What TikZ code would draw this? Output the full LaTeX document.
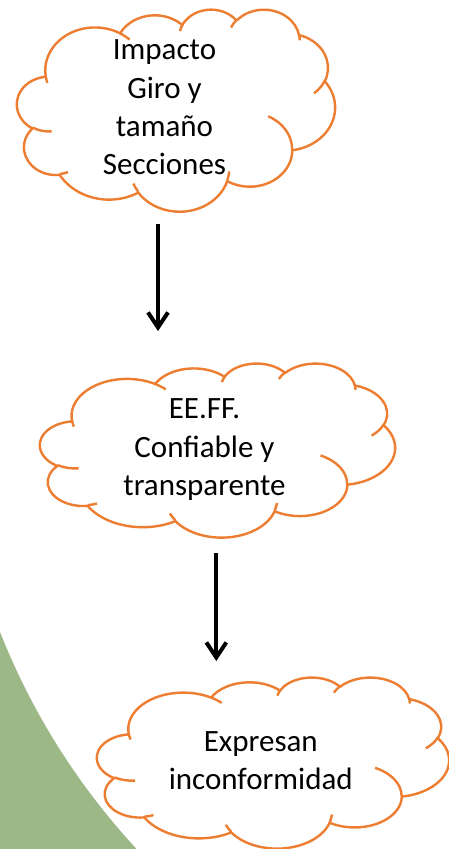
\documentclass[tikz,border=0pt]{standalone}
\usepackage{fontspec}
\setmainfont{Carlito}
\usetikzlibrary{arrows.meta}
\definecolor{cloudorange}{RGB}{237,125,49}
\definecolor{decogreen}{RGB}{156,184,134}
\newcommand\carc[4]{arc[x radius=#1, y radius=#2, start angle={atan2((#1)*sin(#3),(#2)*cos(#3))}, delta angle={Mod(atan2((#1)*sin((#3)+(#4)),(#2)*cos((#3)+(#4)))-atan2((#1)*sin(#3),(#2)*cos(#3)),360)}]}
\newcommand\drawcloud[4]{%
  \begin{scope}[shift={(#1,#2)}, xscale=#3/43.2, yscale=#4/43.2]
    \draw[cloudline, fill=white] (3.9,14.37)
      \carc{6.753}{9.19}{-190.4875}{123.7805}
      \carc{5.333}{7.267}{-144.1024}{89.9452}
      \carc{4.365}{5.945}{-145.8079}{99.7230}
      \carc{4.857}{6.595}{-130.9861}{117.2417}
      \carc{5.333}{7.273}{-78.7089}{109.0269}
      \carc{6.775}{9.22}{-46.2673}{130.2690}
      \carc{5.785}{7.867}{0.6250}{114.0333}
      \carc{6.752}{9.215}{22.4516}{115.1726}
      \carc{7.72}{10.543}{66.2426}{75.7110}
      \carc{4.36}{5.918}{-274.9421}{146.7356}
      \carc{4.345}{5.945}{-246.8285}{152.5189}
      -- cycle;
    \draw[cloudline]
      (4.693,26.177) \carc{4.345}{5.945}{86.7420}{26.4295}
      (6.928,34.899) \carc{4.36}{5.918}{73.6105}{11.4475}
      (16.478,39.09) \carc{6.752}{9.215}{137.6242}{14.0811}
      (28.827,34.751) \carc{6.752}{9.215}{6.4533}{15.9984}
      (34.129,22.954) \carc{5.785}{7.867}{-70.2924}{70.9174}
      (41.798,15.354) \carc{5.333}{7.273}{30.3180}{27.7515}
      (38.324,5.426) \carc{4.857}{6.595}{-13.7443}{14.8589}
      (29.078,3.952) \carc{4.857}{6.595}{-149.1815}{18.1954}
      (22.141,4.72) \carc{4.365}{5.945}{-163.4943}{17.6864}
      (14,5.192) \carc{6.753}{9.19}{-66.7070}{12.3194}
      (4.127,15.789) \carc{6.753}{9.19}{157.6544}{11.8582};
  \end{scope}}
\begin{document}
\begin{tikzpicture}[x=1pt, y=-1pt,
  cloudline/.style={draw=cloudorange, line width=2.4pt, line join=round},
  txt/.style={font=\fontsize{31}{38.3}\selectfont, align=center, inner sep=0pt, text=black},
  arr/.style={line width=4pt, -{Straight Barb[length=15pt, width=20pt]}}]
  \useasboundingbox (0,0) rectangle (449,849);
  \fill[white] (0,0) rectangle (449,849);
  % decorative green segment
  \begin{scope}
    \clip (0,0) rectangle (449,849);
    \fill[decogreen] (-20,632) -- (0,632)
      arc[start angle={180-21.54}, end angle={180-45}, radius=693]
      -- (-20,900) -- cycle;
  \end{scope}
  % clouds
  \drawcloud{17}{9}{318}{202}
  \drawcloud{40}{363}{355}{174}
  \drawcloud{97}{677}{352}{171}
  % texts
  \node[txt] (t1) at (164.5,107.5) {Impacto\\Giro y\\tamaño\\Secciones};
  \node[txt] (t2) at (204.5,449.7) {EE.FF.\\Confiable y\\transparente};
  \node[txt] (t3) at (260.8,760.5) {Expresan\\inconformidad};
  % arrows
  \coordinate (a1s) at (158,224);
  \coordinate (a1e) at (158,331);
  \coordinate (a2s) at (216.3,553);
  \coordinate (a2e) at (216.3,661);
  \draw[arr] (a1s) -- (a1e);
  \draw[arr] (a2s) -- (a2e);
\end{tikzpicture}
\end{document}
